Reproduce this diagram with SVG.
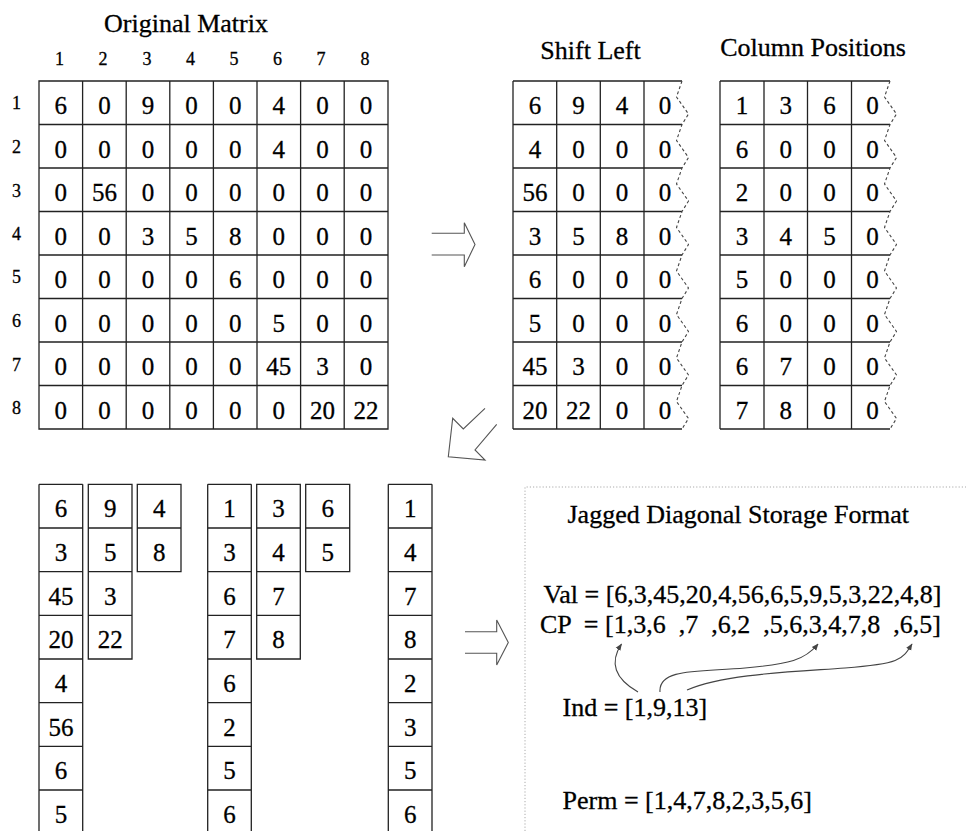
<svg xmlns="http://www.w3.org/2000/svg" xmlns:xlink="http://www.w3.org/1999/xlink" width="966" height="831" viewBox="0 0 966 831">
<style>
text{font-family:"Liberation Serif","Times New Roman",serif;fill:#000;stroke:#000;stroke-width:0.3}
.t{font-size:26px;text-anchor:middle}
.tl{font-size:26px;white-space:pre}
.h{font-size:18px;text-anchor:middle}
.c{font-size:25px;text-anchor:middle}
.g{fill:none;stroke:#222;stroke-width:1.3}
.z{fill:none;stroke:#444;stroke-width:1.1;stroke-dasharray:3 2.5}
.ar{fill:#fff;stroke:#555;stroke-width:1.1;stroke-linejoin:miter}
.cv{fill:none;stroke:#444;stroke-width:1.1}
</style>
<defs>
<path id="zig" d="M682,81 L676.5,97 L688.5,114 L682,124.5 L676.5,140.5 L688.5,157.5 L682,168 L676.5,184 L688.5,201 L682,211.5 L676.5,227.5 L688.5,244.5 L682,255 L676.5,271 L688.5,288 L682,298.5 L676.5,314.5 L688.5,331.5 L682,342 L676.5,358 L688.5,375 L682,385.5 L676.5,401.5 L688.5,418.5 L682,429"/>
<marker id="ah" viewBox="0 0 10 10" refX="9" refY="5" markerWidth="7" markerHeight="7" markerUnits="userSpaceOnUse" orient="auto"><path d="M0,1 L10,5 L0,9 Z" fill="#444"/></marker>
</defs>
<rect width="966" height="831" fill="#fff"/>

<g id="original-matrix">
<text class="t" x="186" y="32">Original Matrix</text>
<g class="headers">
<text class="h" x="59.5" y="65">1</text><text class="h" x="103" y="65">2</text><text class="h" x="147" y="65">3</text><text class="h" x="190.5" y="65">4</text><text class="h" x="234" y="65">5</text><text class="h" x="277.5" y="65">6</text><text class="h" x="321" y="65">7</text><text class="h" x="365" y="65">8</text>
<text class="h" x="16.5" y="109">1</text><text class="h" x="16.5" y="152.5">2</text><text class="h" x="16.5" y="197">3</text><text class="h" x="16.5" y="239.5">4</text><text class="h" x="16.5" y="283">5</text><text class="h" x="16.5" y="327">6</text><text class="h" x="16.5" y="370.5">7</text><text class="h" x="16.5" y="414">8</text>
</g>
<path class="g" d="M39,81 H388 V429 H39 Z M39,124.5 H388 M39,168 H388 M39,211.5 H388 M39,255 H388 M39,298.5 H388 M39,342 H388 M39,385.5 H388 M82.6,81 V429 M126.2,81 V429 M169.8,81 V429 M213.4,81 V429 M257,81 V429 M300.6,81 V429 M344.2,81 V429"/>
<g class="cells">
<text class="c" x="60.8" y="114">6</text><text class="c" x="104.4" y="114">0</text><text class="c" x="148" y="114">9</text><text class="c" x="191.6" y="114">0</text><text class="c" x="235.2" y="114">0</text><text class="c" x="278.8" y="114">4</text><text class="c" x="322.4" y="114">0</text><text class="c" x="366" y="114">0</text>
<text class="c" x="60.8" y="157.5">0</text><text class="c" x="104.4" y="157.5">0</text><text class="c" x="148" y="157.5">0</text><text class="c" x="191.6" y="157.5">0</text><text class="c" x="235.2" y="157.5">0</text><text class="c" x="278.8" y="157.5">4</text><text class="c" x="322.4" y="157.5">0</text><text class="c" x="366" y="157.5">0</text>
<text class="c" x="60.8" y="201">0</text><text class="c" x="104.4" y="201">56</text><text class="c" x="148" y="201">0</text><text class="c" x="191.6" y="201">0</text><text class="c" x="235.2" y="201">0</text><text class="c" x="278.8" y="201">0</text><text class="c" x="322.4" y="201">0</text><text class="c" x="366" y="201">0</text>
<text class="c" x="60.8" y="244.5">0</text><text class="c" x="104.4" y="244.5">0</text><text class="c" x="148" y="244.5">3</text><text class="c" x="191.6" y="244.5">5</text><text class="c" x="235.2" y="244.5">8</text><text class="c" x="278.8" y="244.5">0</text><text class="c" x="322.4" y="244.5">0</text><text class="c" x="366" y="244.5">0</text>
<text class="c" x="60.8" y="288">0</text><text class="c" x="104.4" y="288">0</text><text class="c" x="148" y="288">0</text><text class="c" x="191.6" y="288">0</text><text class="c" x="235.2" y="288">6</text><text class="c" x="278.8" y="288">0</text><text class="c" x="322.4" y="288">0</text><text class="c" x="366" y="288">0</text>
<text class="c" x="60.8" y="331.5">0</text><text class="c" x="104.4" y="331.5">0</text><text class="c" x="148" y="331.5">0</text><text class="c" x="191.6" y="331.5">0</text><text class="c" x="235.2" y="331.5">0</text><text class="c" x="278.8" y="331.5">5</text><text class="c" x="322.4" y="331.5">0</text><text class="c" x="366" y="331.5">0</text>
<text class="c" x="60.8" y="375">0</text><text class="c" x="104.4" y="375">0</text><text class="c" x="148" y="375">0</text><text class="c" x="191.6" y="375">0</text><text class="c" x="235.2" y="375">0</text><text class="c" x="278.8" y="375">45</text><text class="c" x="322.4" y="375">3</text><text class="c" x="366" y="375">0</text>
<text class="c" x="60.8" y="418.5">0</text><text class="c" x="104.4" y="418.5">0</text><text class="c" x="148" y="418.5">0</text><text class="c" x="191.6" y="418.5">0</text><text class="c" x="235.2" y="418.5">0</text><text class="c" x="278.8" y="418.5">0</text><text class="c" x="322.4" y="418.5">20</text><text class="c" x="366" y="418.5">22</text>
</g>
</g>

<g id="shift-left">
<text class="t" x="590.5" y="59">Shift Left</text>
<path class="g" d="M513,81 H682 M513,124.5 H682 M513,168 H682 M513,211.5 H682 M513,255 H682 M513,298.5 H682 M513,342 H682 M513,385.5 H682 M513,429 H682 M513,81 V429 M556.7,81 V429 M600.3,81 V429 M644,81 V429"/>
<use xlink:href="#zig" href="#zig" class="z"/>
<g class="cells">
<text class="c" x="535" y="114">6</text><text class="c" x="578.5" y="114">9</text><text class="c" x="622" y="114">4</text><text class="c" x="665" y="114">0</text>
<text class="c" x="535" y="157.5">4</text><text class="c" x="578.5" y="157.5">0</text><text class="c" x="622" y="157.5">0</text><text class="c" x="665" y="157.5">0</text>
<text class="c" x="535" y="201">56</text><text class="c" x="578.5" y="201">0</text><text class="c" x="622" y="201">0</text><text class="c" x="665" y="201">0</text>
<text class="c" x="535" y="244.5">3</text><text class="c" x="578.5" y="244.5">5</text><text class="c" x="622" y="244.5">8</text><text class="c" x="665" y="244.5">0</text>
<text class="c" x="535" y="288">6</text><text class="c" x="578.5" y="288">0</text><text class="c" x="622" y="288">0</text><text class="c" x="665" y="288">0</text>
<text class="c" x="535" y="331.5">5</text><text class="c" x="578.5" y="331.5">0</text><text class="c" x="622" y="331.5">0</text><text class="c" x="665" y="331.5">0</text>
<text class="c" x="535" y="375">45</text><text class="c" x="578.5" y="375">3</text><text class="c" x="622" y="375">0</text><text class="c" x="665" y="375">0</text>
<text class="c" x="535" y="418.5">20</text><text class="c" x="578.5" y="418.5">22</text><text class="c" x="622" y="418.5">0</text><text class="c" x="665" y="418.5">0</text>
</g>
</g>

<g id="column-positions">
<text class="t" x="813" y="56">Column Positions</text>
<path class="g" d="M720,81 H890 M720,124.5 H890 M720,168 H890 M720,211.5 H890 M720,255 H890 M720,298.5 H890 M720,342 H890 M720,385.5 H890 M720,429 H890 M720,81 V429 M764,81 V429 M807.5,81 V429 M851.5,81 V429"/>
<use xlink:href="#zig" href="#zig" class="z" transform="translate(208,0)"/>
<g class="cells">
<text class="c" x="742" y="114">1</text><text class="c" x="785.7" y="114">3</text><text class="c" x="829.5" y="114">6</text><text class="c" x="872.5" y="114">0</text>
<text class="c" x="742" y="157.5">6</text><text class="c" x="785.7" y="157.5">0</text><text class="c" x="829.5" y="157.5">0</text><text class="c" x="872.5" y="157.5">0</text>
<text class="c" x="742" y="201">2</text><text class="c" x="785.7" y="201">0</text><text class="c" x="829.5" y="201">0</text><text class="c" x="872.5" y="201">0</text>
<text class="c" x="742" y="244.5">3</text><text class="c" x="785.7" y="244.5">4</text><text class="c" x="829.5" y="244.5">5</text><text class="c" x="872.5" y="244.5">0</text>
<text class="c" x="742" y="288">5</text><text class="c" x="785.7" y="288">0</text><text class="c" x="829.5" y="288">0</text><text class="c" x="872.5" y="288">0</text>
<text class="c" x="742" y="331.5">6</text><text class="c" x="785.7" y="331.5">0</text><text class="c" x="829.5" y="331.5">0</text><text class="c" x="872.5" y="331.5">0</text>
<text class="c" x="742" y="375">6</text><text class="c" x="785.7" y="375">7</text><text class="c" x="829.5" y="375">0</text><text class="c" x="872.5" y="375">0</text>
<text class="c" x="742" y="418.5">7</text><text class="c" x="785.7" y="418.5">8</text><text class="c" x="829.5" y="418.5">0</text><text class="c" x="872.5" y="418.5">0</text>
</g>
</g>

<g id="jagged-values">
<path class="g" d="M39,484.3 H82.7 M39,528 H82.7 M39,571.7 H82.7 M39,615.3 H82.7 M39,659 H82.7 M39,702.7 H82.7 M39,746.3 H82.7 M39,790 H82.7 M39,484.3 V835 M82.7,484.3 V835"/>
<path class="g" d="M88.3,484.3 H132 V659 H88.3 Z M88.3,528 H132 M88.3,571.7 H132 M88.3,615.3 H132"/>
<path class="g" d="M137.3,484.3 H181 V571.7 H137.3 Z M137.3,528 H181"/>
<text class="c" x="61" y="517.3">6</text><text class="c" x="61" y="561">3</text><text class="c" x="61" y="604.7">45</text><text class="c" x="61" y="648.3">20</text><text class="c" x="61" y="692">4</text><text class="c" x="61" y="735.7">56</text><text class="c" x="61" y="779.3">6</text><text class="c" x="61" y="823">5</text>
<text class="c" x="110.2" y="517.3">9</text><text class="c" x="110.2" y="561">5</text><text class="c" x="110.2" y="604.7">3</text><text class="c" x="110.2" y="648.3">22</text>
<text class="c" x="159.2" y="517.3">4</text><text class="c" x="159.2" y="561">8</text>
</g>

<g id="jagged-columns">
<path class="g" d="M207.7,484.3 H251.3 M207.7,528 H251.3 M207.7,571.7 H251.3 M207.7,615.3 H251.3 M207.7,659 H251.3 M207.7,702.7 H251.3 M207.7,746.3 H251.3 M207.7,790 H251.3 M207.7,484.3 V835 M251.3,484.3 V835"/>
<path class="g" d="M256.7,484.3 H300.3 V659 H256.7 Z M256.7,528 H300.3 M256.7,571.7 H300.3 M256.7,615.3 H300.3"/>
<path class="g" d="M305.7,484.3 H349.7 V571.7 H305.7 Z M305.7,528 H349.7"/>
<text class="c" x="229.5" y="517.3">1</text><text class="c" x="229.5" y="561">3</text><text class="c" x="229.5" y="604.7">6</text><text class="c" x="229.5" y="648.3">7</text><text class="c" x="229.5" y="692">6</text><text class="c" x="229.5" y="735.7">2</text><text class="c" x="229.5" y="779.3">5</text><text class="c" x="229.5" y="823">6</text>
<text class="c" x="278.5" y="517.3">3</text><text class="c" x="278.5" y="561">4</text><text class="c" x="278.5" y="604.7">7</text><text class="c" x="278.5" y="648.3">8</text>
<text class="c" x="327.7" y="517.3">6</text><text class="c" x="327.7" y="561">5</text>
</g>

<g id="permutation">
<path class="g" d="M388.3,484.3 H432 M388.3,528 H432 M388.3,571.7 H432 M388.3,615.3 H432 M388.3,659 H432 M388.3,702.7 H432 M388.3,746.3 H432 M388.3,790 H432 M388.3,484.3 V835 M432,484.3 V835"/>
<text class="c" x="410.2" y="517.3">1</text><text class="c" x="410.2" y="561">4</text><text class="c" x="410.2" y="604.7">7</text><text class="c" x="410.2" y="648.3">8</text><text class="c" x="410.2" y="692">2</text><text class="c" x="410.2" y="735.7">3</text><text class="c" x="410.2" y="779.3">5</text><text class="c" x="410.2" y="823">6</text>
</g>

<g id="jds-format">
<path d="M525,831 V487 H966" fill="none" stroke="#aaa" stroke-width="1" stroke-dasharray="1.2 2"/>
<text class="tl" x="567.5" y="523">Jagged Diagonal Storage Format</text>
<text class="tl" x="543.4" y="603">Val = [6,3,45,20,4,56,6,5,9,5,3,22,4,8]</text>
<text class="tl" x="540" y="633">CP  = [1,3,6  ,7  ,6,2  ,5,6,3,4,7,8  ,6,5]</text>
<text class="tl" x="562.5" y="716">Ind = [1,9,13]</text>
<text class="tl" x="562.5" y="809">Perm = [1,4,7,8,2,3,5,6]</text>
</g>

<g id="connectors">
<polyline class="ar" points="431.7,233.3 464.3,233.3 464.3,222.7 475,244.5 464.3,266.7 464.3,255 431.7,255"/>
<polyline class="ar" points="485,408.3 463.3,429 452.7,418.3 448.3,456.7 485,460 475,450 496.7,424.3"/>
<polyline class="ar" points="465,631.7 496.7,631.7 496.7,620 508.3,642.5 496.7,665 496.7,653.3 465,653.3"/>
<path class="cv" d="M638,692 Q603,672 621.5,644" marker-end="url(#ah)"/>
<path class="cv" d="M660,692 C658,668 700,672 745,668 S805,660 818,644" marker-end="url(#ah)"/>
<path class="cv" d="M687,690 C725,674 790,672 845,668 S902,660 912,644" marker-end="url(#ah)"/>
</g>
</svg>
